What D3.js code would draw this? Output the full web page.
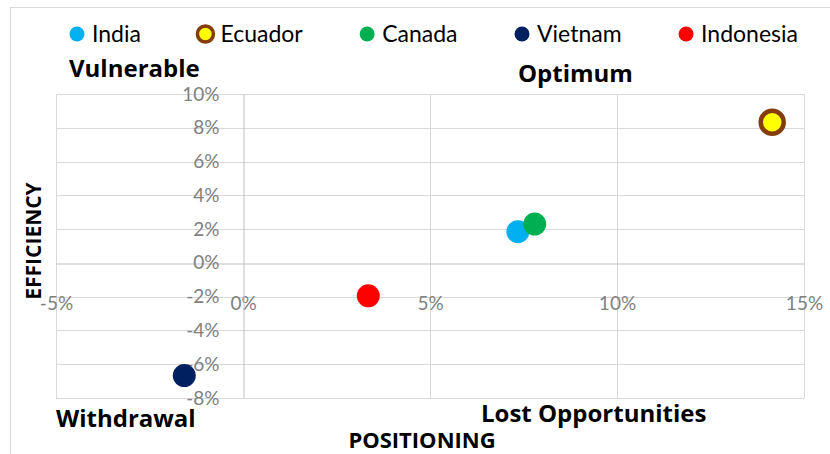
<!DOCTYPE html>
<html>
<head>
<meta charset="utf-8">
<script src="https://cdn.jsdelivr.net/npm/d3@7"></script>
<style>
  body { margin: 0; background: #fff; }
  text { font-family: Lato, "Liberation Sans", sans-serif; }
  .bold { font-family: "Open Sans", Lato, sans-serif; font-weight: bold; }
</style>
</head>
<body>
<div id="chart"></div>
<script>
// data (percent)
var countries = ["India", "Ecuador", "Canada", "Vietnam", "Indonesia"];
var positioning = [7.35, 14.15, 7.8, -1.57, 3.35];
var efficiency = [1.85, 8.33, 2.3, -6.67, -1.95];
var fills = ["#00B0F0", "#FFFF00", "#00B050", "#002060", "#FF0000"];
var strokes = ["none", "#843C0C", "none", "none", "none"];

var xTicks = [-5, 0, 5, 10, 15];
var yTicks = [-8, -6, -4, -2, 0, 2, 4, 6, 8, 10];

var width = 830, height = 454;
var plot = {left: 56, right: 804, top: 94, bottom: 398};

var svg = d3.select("#chart")
  .append("svg")
    .attr("width", width)
    .attr("height", height);

// chart frame (cropped at right and bottom)
svg.append("rect")
  .attr("x", 10.5).attr("y", 7.5)
  .attr("width", 900).attr("height", 600)
  .attr("fill", "none")
  .attr("stroke", "#D9D9D9");

var x = d3.scaleLinear()
  .domain([xTicks[0], xTicks[xTicks.length - 1]])
  .range([plot.left, plot.right]);

var y = d3.scaleLinear()
  .domain([yTicks[0], yTicks[yTicks.length - 1]])
  .range([plot.bottom, plot.top]);

// gridlines
svg.append("g")
  .selectAll("line")
  .data(yTicks.filter(d => d != 0))
  .enter()
  .append("line")
    .attr("x1", plot.left).attr("x2", plot.right)
    .attr("y1", d => Math.round(y(d)) + 0.5)
    .attr("y2", d => Math.round(y(d)) + 0.5)
    .attr("stroke", "#D9D9D9");

svg.append("g")
  .selectAll("line")
  .data(xTicks.filter(d => d != 0))
  .enter()
  .append("line")
    .attr("y1", plot.top).attr("y2", plot.bottom)
    .attr("x1", d => Math.round(x(d)) + 0.5)
    .attr("x2", d => Math.round(x(d)) + 0.5)
    .attr("stroke", "#D9D9D9");

// axes through zero
var x_axis = d3.axisBottom(x)
  .tickValues(xTicks)
  .tickSize(0)
  .tickPadding(33)
  .tickFormat(d => d + "%");
var gx = svg.append("g")
  .attr("transform", "translate(0," + (Math.round(y(0)) + 0.5) + ")")
  .call(x_axis);

var y_axis = d3.axisLeft(y)
  .tickValues(yTicks)
  .tickSize(0)
  .tickPadding(24)
  .tickFormat(d => d + "%");
var gy = svg.append("g")
  .attr("transform", "translate(" + (Math.round(x(0)) + 0.5) + ",0)")
  .call(y_axis);

[gx, gy].forEach(function(g) {
  g.select(".domain").attr("stroke", "#BFBFBF").attr("stroke-width", 1);
  g.selectAll("text")
    .attr("fill", "#808080")
    .style("font-family", "Lato, sans-serif")
    .style("font-size", "19px");
});

// points
svg.append("g")
  .selectAll("circle")
  .data(countries)
  .enter()
  .append("circle")
    .attr("cx", (d, i) => x(positioning[i]))
    .attr("cy", (d, i) => y(efficiency[i]))
    .attr("r", 11.5)
    .attr("fill", (d, i) => fills[i])
    .attr("stroke", (d, i) => strokes[i])
    .attr("stroke-width", 4.5);

// legend
var legend = svg.append("g");
var items = legend.selectAll("g")
  .data(countries)
  .enter()
  .append("g");
items.append("circle")
  .attr("r", (d, i) => strokes[i] == "none" ? 7.5 : 8)
  .attr("fill", (d, i) => fills[i])
  .attr("stroke", (d, i) => strokes[i])
  .attr("stroke-width", 3.5);
items.append("text")
  .attr("x", 15)
  .attr("y", 8)
  .attr("font-size", "23px")
  .attr("fill", "#000")
  .text(d => d);

// spread legend entries between first marker and last text end
var widths = [];
items.select("text").each(function() { widths.push(this.getComputedTextLength()); });
var legStart = 77, legEnd = 798;
var used = d3.sum(widths) + countries.length * 15;
var gap = (legEnd - legStart - used) / (countries.length - 1);
var pos = legStart;
items.attr("transform", function(d, i) {
  var t = "translate(" + pos + ",34)";
  pos += 15 + widths[i] + gap;
  return t;
});

// quadrant labels
var quads = [
  {text: "Vulnerable", x: 69, y: 77},
  {text: "Optimum", x: 518, y: 82},
  {text: "Withdrawal", x: 56, y: 427},
  {text: "Lost Opportunities", x: 481, y: 422}
];
svg.append("g")
  .selectAll("text")
  .data(quads)
  .enter()
  .append("text")
    .attr("class", "bold")
    .attr("x", d => d.x)
    .attr("y", d => d.y)
    .attr("font-size", "24px")
    .attr("fill", "#000")
    .text(d => d.text);

// axis titles
svg.append("text")
  .attr("class", "bold")
  .attr("text-anchor", "middle")
  .attr("x", 422)
  .attr("y", 448)
  .attr("font-size", "22px")
  .text("POSITIONING");

svg.append("text")
  .attr("class", "bold")
  .attr("text-anchor", "middle")
  .attr("transform", "translate(41,241) rotate(-90)")
  .attr("font-size", "21px")
  .text("EFFICIENCY");
</script>
</body>
</html>
